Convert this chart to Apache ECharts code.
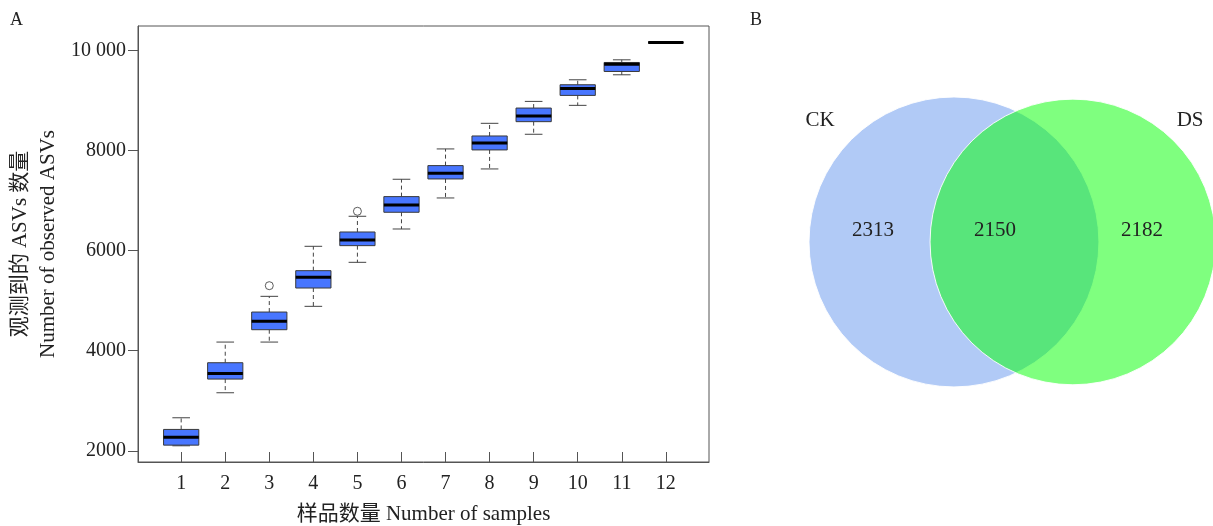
<!DOCTYPE html>
<html>
<head>
<meta charset="utf-8">
<script src="https://cdn.jsdelivr.net/npm/echarts@6/dist/echarts.min.js"></script>
<style>
  html, body { margin: 0; padding: 0; background: #fff; }
  #main { width: 1213px; height: 526px; }
</style>
</head>
<body>
<div id="main"></div>
<script>
// A 图：样品数量 - 观测到的 ASVs 数量 箱线图
const sampleNums = [1, 2, 3, 4, 5, 6, 7, 8, 9, 10, 11, 12];
const whiskerLow = [2100, 3160, 4173, 4887, 5767, 6433, 7053, 7633, 8326, 8904, 9515, 10159];
const q1 = [2113, 3433, 4420, 5253, 6100, 6767, 7433, 8013, 8578, 9103, 9581, 10159];
const median = [2273, 3547, 4587, 5467, 6213, 6913, 7547, 8153, 8691, 9243, 9728, 10159];
const q3 = [2427, 3760, 4773, 5600, 6373, 7080, 7700, 8292, 8850, 9316, 9761, 10159];
const whiskerHigh = [2660, 4173, 5087, 6087, 6687, 7427, 8033, 8545, 8983, 9415, 9814, 10159];
const outliers = [[3, 5300], [5, 6787]];
const yTicks = [2000, 4000, 6000, 8000, 10000];

// B 图：Venn
const vennNames = ['CK', 'DS'];
const vennOnly = [2313, 2182];
const vennShared = 2150;

const FONT = '"Liberation Serif", "Times New Roman", "Noto Sans CJK SC", serif';
const TEXT_COLOR = '#222';

// venn 布局（单位 = sqrt(ASV数)，1 单位 ≈ 2.17px）
const VSCALE = 2.17;
const vennLeft = 740;
const vennCx = [98.6, 153.4];
const vennCy = 111.5;
const vennFill = ['rgba(100,149,237,0.5)', 'rgba(0,255,0,0.5)'];

const chart = echarts.init(document.getElementById('main'));

const boxData = sampleNums.map((n, i) => [n, whiskerLow[i], q1[i], median[i], q3[i], whiskerHigh[i]]);

function renderBox(params, api) {
  const x = api.value(0);
  const low = api.coord([x, api.value(1)]);
  const b1 = api.coord([x, api.value(2)]);
  const med = api.coord([x, api.value(3)]);
  const b3 = api.coord([x, api.value(4)]);
  const high = api.coord([x, api.value(5)]);
  const boxW = api.size([0.8, 0])[0];
  const capW = api.size([0.4, 0])[0];
  const cx = med[0];
  const stroke = '#444';
  return {
    type: 'group',
    children: [
      { type: 'line', shape: { x1: cx, y1: b3[1], x2: cx, y2: high[1] }, style: { stroke, lineWidth: 1, lineDash: [4, 3] } },
      { type: 'line', shape: { x1: cx, y1: b1[1], x2: cx, y2: low[1] }, style: { stroke, lineWidth: 1, lineDash: [4, 3] } },
      { type: 'line', shape: { x1: cx - capW / 2, y1: high[1], x2: cx + capW / 2, y2: high[1] }, style: { stroke, lineWidth: 1 } },
      { type: 'line', shape: { x1: cx - capW / 2, y1: low[1], x2: cx + capW / 2, y2: low[1] }, style: { stroke, lineWidth: 1 } },
      { type: 'rect', shape: { x: cx - boxW / 2, y: b3[1], width: boxW, height: b1[1] - b3[1] }, style: { fill: '#4876FF', stroke: '#3a3a3a', lineWidth: 1 } },
      { type: 'line', shape: { x1: cx - boxW / 2, y1: med[1], x2: cx + boxW / 2, y2: med[1] }, style: { stroke: '#000', lineWidth: 3 } }
    ]
  };
}

function renderVenn(params, api) {
  const c = api.coord([api.value(0), api.value(1)]);
  const r = api.size([api.value(2), 0])[0];
  return {
    type: 'circle',
    shape: { cx: c[0], cy: c[1], r: r },
    style: { fill: vennFill[params.dataIndex], stroke: 'rgba(255,255,255,0.9)', lineWidth: 1 }
  };
}

// 文字位置（venn 单位）
const vennTextData = [
  [36.9, 55.3, vennNames[0]],
  [207.4, 55.3, vennNames[1]],
  [61.3, 106, vennOnly[0]],
  [117.5, 106, vennShared],
  [185.3, 106, vennOnly[1]]
];

function renderVennText(params, api) {
  const p = api.coord([api.value(0), api.value(1)]);
  return {
    type: 'text',
    x: p[0],
    y: p[1],
    style: {
      text: String(vennTextData[params.dataIndex][2]),
      fontFamily: FONT,
      fontSize: 21,
      fill: TEXT_COLOR,
      align: 'center',
      verticalAlign: 'middle'
    }
  };
}

const option = {
  animation: false,
  backgroundColor: '#fff',
  title: [
    { text: 'A', left: 5, top: 6, textStyle: { fontFamily: FONT, fontSize: 18, fontWeight: 'normal', color: TEXT_COLOR } },
    { text: 'B', left: 745, top: 6, textStyle: { fontFamily: FONT, fontSize: 18, fontWeight: 'normal', color: TEXT_COLOR } }
  ],
  grid: [
    { left: 138, top: 26, width: 571, height: 436, show: true, borderColor: '#555', borderWidth: 1, outerBoundsMode: 'none' },
    { left: vennLeft, top: 0, width: 473, height: 526, outerBoundsMode: 'none' }
  ],
  xAxis: [
    {
      type: 'value',
      gridIndex: 0,
      min: 0.02,
      max: 12.98,
      axisLine: { show: true, lineStyle: { color: '#555' } },
      axisTick: { show: true, inside: true, length: 10, customValues: sampleNums, lineStyle: { color: '#555' } },
      axisLabel: { customValues: sampleNums, margin: 12, fontFamily: FONT, fontSize: 20, color: TEXT_COLOR },
      splitLine: { show: false },
      name: '样品数量 Number of samples',
      nameLocation: 'middle',
      nameGap: 42,
      nameTextStyle: { fontFamily: FONT, fontSize: 21, color: TEXT_COLOR }
    },
    { type: 'value', gridIndex: 1, min: 0, max: 473 / VSCALE, show: false }
  ],
  yAxis: [
    {
      type: 'value',
      gridIndex: 0,
      min: 1776,
      max: 10490,
      axisLine: { show: true, lineStyle: { color: '#555' } },
      axisTick: { show: true, length: 10, customValues: yTicks, lineStyle: { color: '#555' } },
      axisLabel: {
        customValues: yTicks,
        margin: 12,
        fontFamily: FONT,
        fontSize: 20,
        color: TEXT_COLOR,
        formatter: (v) => (v >= 10000 ? String(v).replace(/\B(?=(\d{3})+(?!\d))/g, ' ') : String(v))
      },
      splitLine: { show: false },
      name: '观测到的 ASVs 数量\nNumber of observed ASVs',
      nameLocation: 'middle',
      nameRotate: 90,
      nameGap: 76,
      nameTextStyle: { fontFamily: FONT, fontSize: 21, lineHeight: 28, color: TEXT_COLOR }
    },
    { type: 'value', gridIndex: 1, min: 0, max: 526 / VSCALE, inverse: true, show: false }
  ],
  series: [
    {
      type: 'custom',
      xAxisIndex: 0,
      yAxisIndex: 0,
      data: boxData,
      renderItem: renderBox,
      clip: false
    },
    {
      type: 'scatter',
      xAxisIndex: 0,
      yAxisIndex: 0,
      data: outliers,
      symbol: 'circle',
      symbolSize: 8,
      itemStyle: { color: '#fff', borderColor: '#333', borderWidth: 1 }
    },
    {
      type: 'custom',
      xAxisIndex: 1,
      yAxisIndex: 1,
      data: vennNames.map((n, i) => [vennCx[i], vennCy, Math.sqrt(vennOnly[i] + vennShared)]),
      renderItem: renderVenn,
      clip: false
    },
    {
      type: 'custom',
      xAxisIndex: 1,
      yAxisIndex: 1,
      data: vennTextData.map((d) => [d[0], d[1]]),
      renderItem: renderVennText,
      clip: false,
      z: 5
    }
  ]
};

chart.setOption(option);
</script>
</body>
</html>
